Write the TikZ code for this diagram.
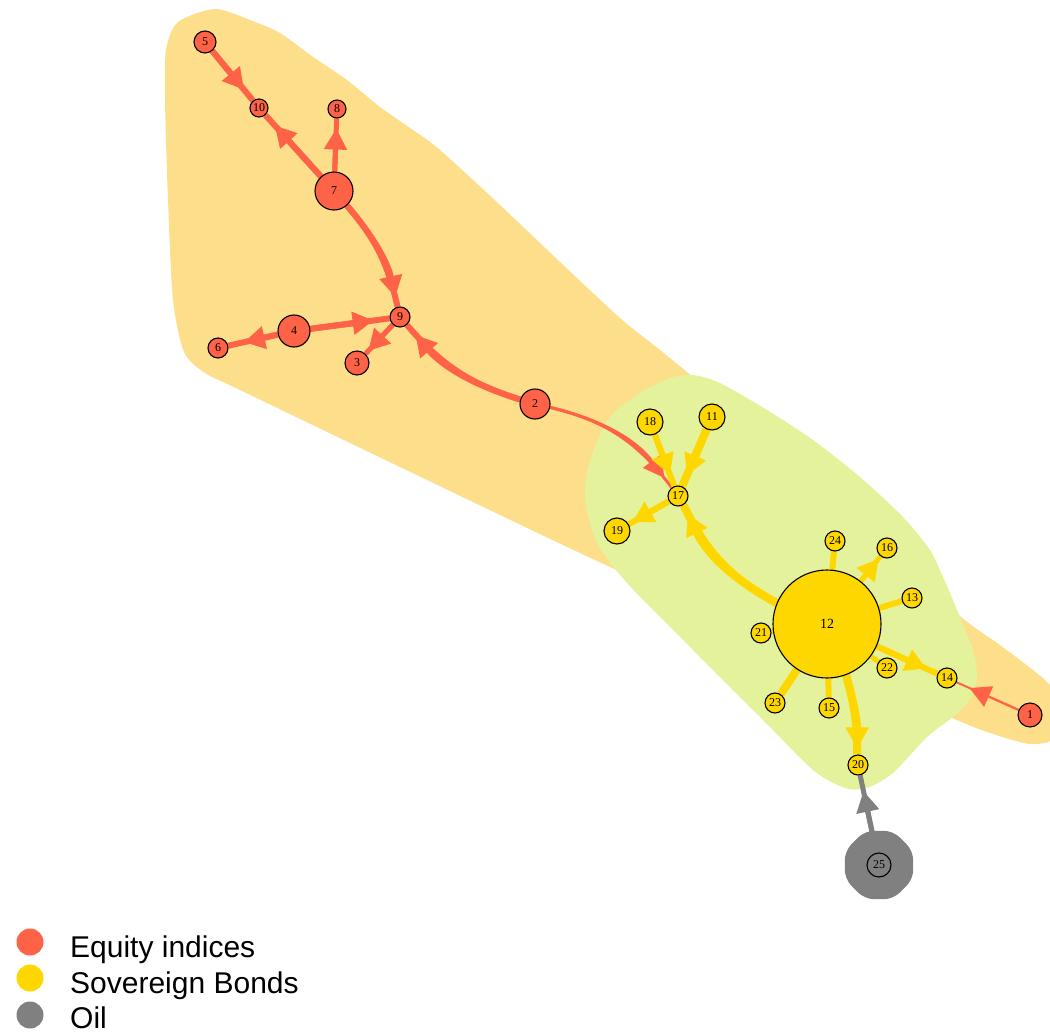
\documentclass[tikz,border=0pt]{standalone}
\usepackage{fontspec}
\setmainfont{Liberation Serif}
\newfontfamily\legfont{Liberation Sans}
\usetikzlibrary{arrows.meta}
\pgfdeclarelayer{hull}
\pgfdeclarelayer{edges}
\pgfsetlayers{hull,edges,main}
\definecolor{eq}{HTML}{FF6347}
\definecolor{sb}{HTML}{FFD700}
\definecolor{oil}{HTML}{808080}
\definecolor{hullO}{HTML}{FDDE8A}
\definecolor{hullG}{HTML}{E4F39B}
\tikzset{
  vtx/.style={circle, draw=black, line width=1.1pt, inner sep=0pt, text=black,
    font=\fontsize{12}{12}\selectfont},
  dia/.style={minimum size=#1pt},
  eqv/.style={vtx, fill=eq},
  sbv/.style={vtx, fill=sb},
  oilv/.style={vtx, fill=oil},
  eR/.style={draw=eq, line width=#1pt},
  eY/.style={draw=sb, line width=#1pt},
  eG/.style={draw=oil, line width=#1pt},
  legdot/.style={circle, inner sep=0pt, minimum size=27pt},
  legtxt/.style={anchor=base west, inner sep=0pt, text=black,
    font=\legfont\fontsize{30}{30}\selectfont},
}
\newcommand{\arrowedge}[5]{%
  \draw[#1] (#2) to[#4] (#3);
  \draw[#1,-{Triangle[length=21pt,width=22pt]},shorten >=#5pt] (#2) to[#4] (#3);}
\begin{document}
\begin{tikzpicture}[x=1pt,y=-1pt]
\useasboundingbox (0,0) rectangle (1050,1033);

% ---------- vertices ----------
\node[eqv,dia=24]  (n1)  at (1030,715) {1};
\node[eqv,dia=30]  (n2)  at (535,404) {2};
\node[eqv,dia=24]  (n3)  at (357,363) {3};
\node[eqv,dia=32]  (n4)  at (294,331) {4};
\node[eqv,dia=22]  (n5)  at (205,42) {5};
\node[eqv,dia=20]  (n6)  at (218,348) {6};
\node[eqv,dia=38]  (n7)  at (334,191) {7};
\node[eqv,dia=18]  (n8)  at (337,109) {8};
\node[eqv,dia=20]  (n9)  at (400,317) {9};
\node[eqv,dia=18]  (n10) at (259,108) {10};
\node[sbv,dia=26]  (n11) at (712,417) {11};
\node[sbv,dia=108,font=\fontsize{14}{14}\selectfont] (n12) at (827,624) {12};
\node[sbv,dia=20]  (n13) at (912,598) {13};
\node[sbv,dia=20]  (n14) at (947,678) {14};
\node[sbv,dia=20]  (n15) at (829,708) {15};
\node[sbv,dia=20]  (n16) at (887,548) {16};
\node[sbv,dia=20]  (n17) at (678,496) {17};
\node[sbv,dia=26]  (n18) at (650,422) {18};
\node[sbv,dia=26]  (n19) at (617,531) {19};
\node[sbv,dia=20]  (n20) at (858,765) {20};
\node[sbv,dia=20]  (n21) at (761,633) {21};
\node[sbv,dia=20]  (n22) at (887,668) {22};
\node[sbv,dia=20]  (n23) at (775,703) {23};
\node[sbv,dia=20]  (n24) at (835,541) {24};
\node[oilv,dia=24] (n25) at (879,865) {25};

% ---------- group hulls ----------
\begin{pgfonlayer}{hull}
\fill[hullO] plot[smooth cycle, tension=0.45] coordinates {
  (178,22) (215,9) (250,20) (280,33) (313,57) (347,80) (380,107) (413,130)
  (440,150) (500,205) (560,262) (620,318) (660,350) (700,383) (800,470)
  (953,610) (1000,645) (1045,680) (1062,705) (1055,738) (1030,744)
  (990,733) (950,717) (800,650) (610,567) (400,467) (240,390) (205,373)
  (184,352) (173,300) (168,200) (165,100) (166,50)};
\fill[hullG] plot[smooth cycle, tension=0.45] coordinates {
  (610,417) (640,393) (670,378) (693,375) (720,383) (767,410) (813,440)
  (860,477) (903,517) (930,550) (943,577) (957,610) (973,650) (977,677)
  (970,700) (953,717) (927,737) (893,773) (867,788) (845,788) (813,770)
  (760,717) (693,650) (627,583) (597,543) (585,500) (590,460)};
\fill[oil, rounded corners=9pt] (879,865) +(22.5:37) -- +(67.5:37) -- +(112.5:37)
  -- +(157.5:37) -- +(202.5:37) -- +(247.5:37) -- +(292.5:37) -- +(337.5:37) -- cycle;
\end{pgfonlayer}

% ---------- edges ----------
\begin{pgfonlayer}{edges}
% equity indices
\arrowedge{eR=6}{n5}{n10}{}{14}
\arrowedge{eR=6}{n7}{n10}{}{14}
\arrowedge{eR=5}{n7}{n8}{}{10}
\arrowedge{eR=6}{n7}{n9}{bend left=14}{10}
\arrowedge{eR=6}{n4}{n9}{}{16}
\arrowedge{eR=6}{n4}{n6}{}{16}
\arrowedge{eR=5}{n9}{n3}{}{4}
\arrowedge{eR=6}{n2}{n9}{bend left=16}{13}
\arrowedge{eR=3}{n2}{n17}{bend left=20}{12}
\arrowedge{eR=2}{n1}{n14}{}{14}
% sovereign bonds
\arrowedge{eY=6}{n18}{n17}{}{12}
\arrowedge{eY=8}{n11}{n17}{}{12}
\arrowedge{eY=6}{n17}{n19}{}{4}
\arrowedge{eY=8}{n12}{n17}{bend left=18}{10}
\arrowedge{eY=8}{n12}{n20}{bend left=8}{6}
\arrowedge{eY=6}{n12}{n14}{}{12}
\arrowedge{eY=5}{n12}{n16}{}{3}
\draw[eY=6] (n12) -- (n24);
\draw[eY=6] (n12) -- (n13);
\draw[eY=6] (n12) -- (n15);
\draw[eY=8] (n12) -- (n23);
\draw[eY=5] (n12) -- (n22);
\draw[eY=5] (n12) -- (n21);
% oil
\arrowedge{eG=5}{n25}{n20}{}{16}
\end{pgfonlayer}

% ---------- legend ----------
\node[legdot, fill=eq]  (l1) at (30,942) {};
\node[legdot, fill=sb]  (l2) at (30,978) {};
\node[legdot, fill=oil] (l3) at (30,1015) {};
\node[legtxt] (t1) at (70,957) {Equity indices};
\node[legtxt] (t2) at (70,993) {Sovereign Bonds};
\node[legtxt] (t3) at (70,1028) {Oil};
\end{tikzpicture}
\end{document}
